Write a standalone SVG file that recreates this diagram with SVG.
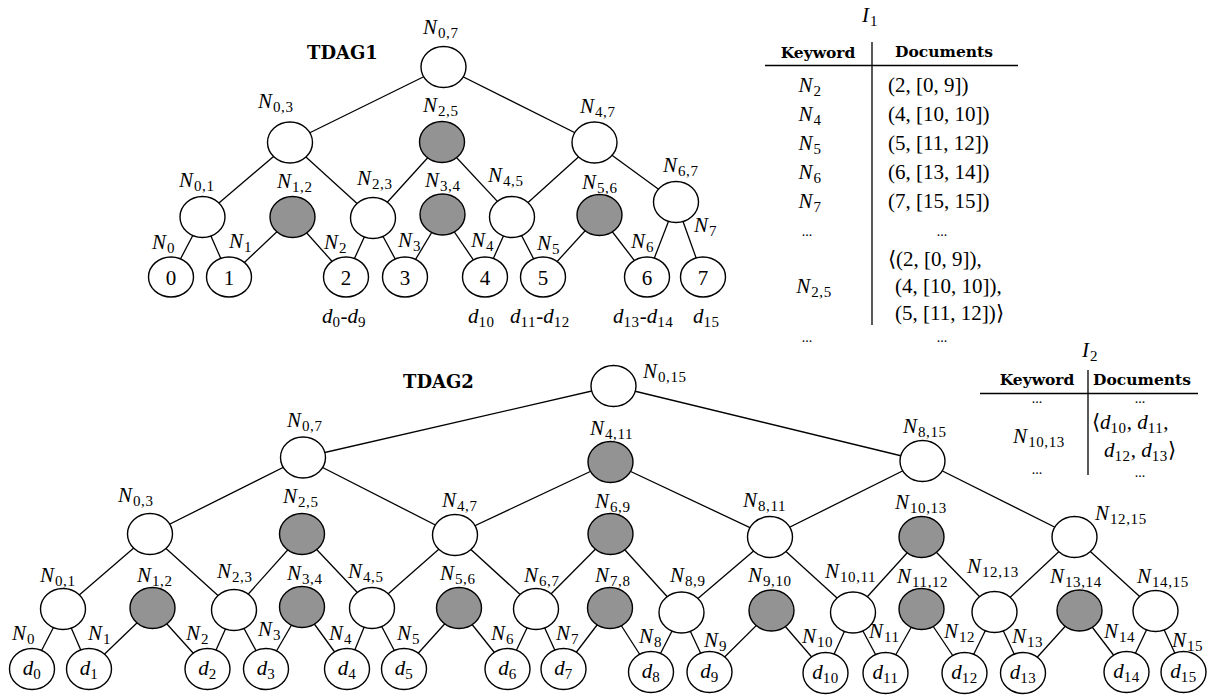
<svg xmlns="http://www.w3.org/2000/svg" width="1211" height="696" viewBox="0 0 1211 696">
<style>
.n{fill:#fff;stroke:#000;stroke-width:1.4}
.g{fill:#939393;stroke:#000;stroke-width:1.4}
.e{stroke:#000;stroke-width:1.3;fill:none}
.m{font-family:"Liberation Serif",serif;font-style:italic;font-size:21px;fill:#000}
.u{font-family:"Liberation Serif",serif;font-style:normal;font-size:21px;fill:#000}
.s{font-size:15px;font-style:normal;letter-spacing:0.6px}
.b{font-family:"DejaVu Serif",serif;font-weight:bold;font-size:15.5px;fill:#000}
.t{font-family:"DejaVu Serif",serif;font-weight:bold;font-size:18px;fill:#000}
.c{text-anchor:middle}
.r{font-family:"Liberation Serif",serif;font-size:21px;fill:#000}
.dt{font-family:"Liberation Serif",serif;font-size:14px;fill:#000;text-anchor:middle}
</style>
<rect width="1211" height="696" fill="#fff"/>
<g id="connectors">
<line class="e" x1="443.5" y1="67" x2="290" y2="142.5"/>
<line class="e" x1="443.5" y1="67" x2="594.5" y2="142.5"/>
<line class="e" x1="290" y1="142.5" x2="202.5" y2="217"/>
<line class="e" x1="290" y1="142.5" x2="373" y2="218"/>
<line class="e" x1="442" y1="142" x2="373" y2="218"/>
<line class="e" x1="442" y1="142" x2="512" y2="217"/>
<line class="e" x1="594.5" y1="142.5" x2="512" y2="217"/>
<line class="e" x1="594.5" y1="142.5" x2="676" y2="202"/>
<line class="e" x1="202.5" y1="217" x2="171" y2="277"/>
<line class="e" x1="202.5" y1="217" x2="229" y2="277"/>
<line class="e" x1="292.5" y1="217" x2="229" y2="277"/>
<line class="e" x1="292.5" y1="217" x2="346" y2="277"/>
<line class="e" x1="373" y1="218" x2="346" y2="277"/>
<line class="e" x1="373" y1="218" x2="405" y2="277"/>
<line class="e" x1="442.5" y1="214.5" x2="405" y2="277"/>
<line class="e" x1="442.5" y1="214.5" x2="485" y2="277"/>
<line class="e" x1="512" y1="217" x2="485" y2="277"/>
<line class="e" x1="512" y1="217" x2="543" y2="277"/>
<line class="e" x1="599.5" y1="215" x2="543" y2="277"/>
<line class="e" x1="599.5" y1="215" x2="647" y2="277"/>
<line class="e" x1="676" y1="202" x2="647" y2="277"/>
<line class="e" x1="676" y1="202" x2="703" y2="277"/>
<line class="e" x1="613.5" y1="386" x2="303" y2="457.5"/>
<line class="e" x1="613.5" y1="386" x2="922.5" y2="461"/>
<line class="e" x1="303" y1="457.5" x2="150" y2="534"/>
<line class="e" x1="303" y1="457.5" x2="455" y2="535"/>
<line class="e" x1="610.5" y1="462" x2="455" y2="535"/>
<line class="e" x1="610.5" y1="462" x2="770" y2="537"/>
<line class="e" x1="922.5" y1="461" x2="770" y2="537"/>
<line class="e" x1="922.5" y1="461" x2="1074.5" y2="537"/>
<line class="e" x1="150" y1="534" x2="63" y2="609"/>
<line class="e" x1="150" y1="534" x2="234" y2="610"/>
<line class="e" x1="302" y1="534" x2="234" y2="610"/>
<line class="e" x1="302" y1="534" x2="372" y2="608"/>
<line class="e" x1="455" y1="535" x2="372" y2="608"/>
<line class="e" x1="455" y1="535" x2="536" y2="609"/>
<line class="e" x1="610.5" y1="534" x2="536" y2="609"/>
<line class="e" x1="610.5" y1="534" x2="681.5" y2="612.5"/>
<line class="e" x1="770" y1="537" x2="681.5" y2="612.5"/>
<line class="e" x1="770" y1="537" x2="853" y2="612.5"/>
<line class="e" x1="921.5" y1="537" x2="853" y2="612.5"/>
<line class="e" x1="921.5" y1="537" x2="994.5" y2="612"/>
<line class="e" x1="1074.5" y1="537" x2="994.5" y2="612"/>
<line class="e" x1="1074.5" y1="537" x2="1155.5" y2="611"/>
<line class="e" x1="63" y1="609" x2="32" y2="669"/>
<line class="e" x1="63" y1="609" x2="89" y2="669"/>
<line class="e" x1="152.5" y1="608" x2="89" y2="669"/>
<line class="e" x1="152.5" y1="608" x2="207.5" y2="669"/>
<line class="e" x1="234" y1="610" x2="207.5" y2="669"/>
<line class="e" x1="234" y1="610" x2="266" y2="669"/>
<line class="e" x1="302" y1="607" x2="266" y2="669"/>
<line class="e" x1="302" y1="607" x2="347" y2="669"/>
<line class="e" x1="372" y1="608" x2="347" y2="669"/>
<line class="e" x1="372" y1="608" x2="404" y2="669"/>
<line class="e" x1="459" y1="608" x2="404" y2="669"/>
<line class="e" x1="459" y1="608" x2="507.5" y2="669"/>
<line class="e" x1="536" y1="609" x2="507.5" y2="669"/>
<line class="e" x1="536" y1="609" x2="563.5" y2="669"/>
<line class="e" x1="610" y1="608" x2="563.5" y2="669"/>
<line class="e" x1="610" y1="608" x2="651" y2="672"/>
<line class="e" x1="681.5" y1="612.5" x2="651" y2="672"/>
<line class="e" x1="681.5" y1="612.5" x2="709.5" y2="672"/>
<line class="e" x1="771.5" y1="610.5" x2="709.5" y2="672"/>
<line class="e" x1="771.5" y1="610.5" x2="825.5" y2="673"/>
<line class="e" x1="853" y1="612.5" x2="825.5" y2="673"/>
<line class="e" x1="853" y1="612.5" x2="885.5" y2="673"/>
<line class="e" x1="921.5" y1="609" x2="885.5" y2="673"/>
<line class="e" x1="921.5" y1="609" x2="964.5" y2="673"/>
<line class="e" x1="994.5" y1="612" x2="964.5" y2="673"/>
<line class="e" x1="994.5" y1="612" x2="1023" y2="673"/>
<line class="e" x1="1079.5" y1="610.5" x2="1023" y2="673"/>
<line class="e" x1="1079.5" y1="610.5" x2="1126.5" y2="672"/>
<line class="e" x1="1155.5" y1="611" x2="1126.5" y2="672"/>
<line class="e" x1="1155.5" y1="611" x2="1183.5" y2="672"/>
</g>

<g id="tdag1-title"><text class="t" x="307" y="59">TDAG1</text></g>
<g id="t1-N07"><ellipse class="n" cx="443.5" cy="67" rx="22.5" ry="20.5"/><text class="m" x="423" y="34">N<tspan class="s" dx="1" dy="4">0,7</tspan></text></g>
<g id="t1-N03"><ellipse class="n" cx="290" cy="142.5" rx="22.5" ry="20.5"/><text class="m" x="258" y="108">N<tspan class="s" dx="1" dy="4">0,3</tspan></text></g>
<g id="t1-N25"><ellipse class="g" cx="442" cy="142" rx="22.5" ry="20.5"/><text class="m" x="423" y="112">N<tspan class="s" dx="1" dy="4">2,5</tspan></text></g>
<g id="t1-N47"><ellipse class="n" cx="594.5" cy="142.5" rx="22.5" ry="20.5"/><text class="m" x="580" y="113">N<tspan class="s" dx="1" dy="4">4,7</tspan></text></g>
<g id="t1-N01"><ellipse class="n" cx="202.5" cy="217" rx="22.5" ry="20.5"/><text class="m" x="179" y="187">N<tspan class="s" dx="1" dy="4">0,1</tspan></text></g>
<g id="t1-N12"><ellipse class="g" cx="292.5" cy="217" rx="22.5" ry="20.5"/><text class="m" x="277" y="188">N<tspan class="s" dx="1" dy="4">1,2</tspan></text></g>
<g id="t1-N23"><ellipse class="n" cx="373" cy="218" rx="22.5" ry="20.5"/><text class="m" x="357" y="185">N<tspan class="s" dx="1" dy="4">2,3</tspan></text></g>
<g id="t1-N34"><ellipse class="g" cx="442.5" cy="214.5" rx="22.5" ry="20.5"/><text class="m" x="425" y="187">N<tspan class="s" dx="1" dy="4">3,4</tspan></text></g>
<g id="t1-N45"><ellipse class="n" cx="512" cy="217" rx="22.5" ry="20.5"/><text class="m" x="488" y="182">N<tspan class="s" dx="1" dy="4">4,5</tspan></text></g>
<g id="t1-N56"><ellipse class="g" cx="599.5" cy="215" rx="22.5" ry="20.5"/><text class="m" x="582" y="189">N<tspan class="s" dx="1" dy="4">5,6</tspan></text></g>
<g id="t1-N67"><ellipse class="n" cx="676" cy="202" rx="22.5" ry="20.5"/><text class="m" x="663" y="172">N<tspan class="s" dx="1" dy="4">6,7</tspan></text></g>
<g id="t1-L0"><ellipse class="n" cx="171" cy="277" rx="22.5" ry="20"/><text class="u c" x="171" y="284.5">0</text><text class="m" x="152" y="249">N<tspan class="s" dx="1" dy="4">0</tspan></text></g>
<g id="t1-L1"><ellipse class="n" cx="229" cy="277" rx="22.5" ry="20"/><text class="u c" x="229" y="284.5">1</text><text class="m" x="229" y="248">N<tspan class="s" dx="1" dy="4">1</tspan></text></g>
<g id="t1-L2"><ellipse class="n" cx="346" cy="277" rx="22.5" ry="20"/><text class="u c" x="346" y="284.5">2</text><text class="m" x="324" y="249">N<tspan class="s" dx="1" dy="4">2</tspan></text></g>
<g id="t1-L3"><ellipse class="n" cx="405" cy="277" rx="22.5" ry="20"/><text class="u c" x="405" y="284.5">3</text><text class="m" x="398" y="247">N<tspan class="s" dx="1" dy="4">3</tspan></text></g>
<g id="t1-L4"><ellipse class="n" cx="485" cy="277" rx="22.5" ry="20"/><text class="u c" x="485" y="284.5">4</text><text class="m" x="471" y="247">N<tspan class="s" dx="1" dy="4">4</tspan></text></g>
<g id="t1-L5"><ellipse class="n" cx="543" cy="277" rx="22.5" ry="20"/><text class="u c" x="543" y="284.5">5</text><text class="m" x="537" y="250">N<tspan class="s" dx="1" dy="4">5</tspan></text></g>
<g id="t1-L6"><ellipse class="n" cx="647" cy="277" rx="22.5" ry="20"/><text class="u c" x="647" y="284.5">6</text><text class="m" x="631" y="248">N<tspan class="s" dx="1" dy="4">6</tspan></text></g>
<g id="t1-L7"><ellipse class="n" cx="703" cy="277" rx="22.5" ry="20"/><text class="u c" x="703" y="284.5">7</text><text class="m" x="694" y="232">N<tspan class="s" dx="1" dy="4">7</tspan></text></g>
<g id="t1-docs">
<text class="m" x="322" y="323">d<tspan class="s" dy="4">0</tspan><tspan style="font-style:normal" dy="-4">-</tspan>d<tspan class="s" dy="4">9</tspan></text>
<text class="m" x="468" y="323">d<tspan class="s" dy="4">10</tspan></text>
<text class="m" x="510" y="323">d<tspan class="s" dy="4">11</tspan><tspan style="font-style:normal" dy="-4">-</tspan>d<tspan class="s" dy="4">12</tspan></text>
<text class="m" x="613" y="323">d<tspan class="s" dy="4">13</tspan><tspan style="font-style:normal" dy="-4">-</tspan>d<tspan class="s" dy="4">14</tspan></text>
<text class="m" x="693" y="323">d<tspan class="s" dy="4">15</tspan></text>
</g>

<g id="table-I1">
<text class="m" x="862" y="22">I<tspan class="s" dx="1" dy="4">1</tspan></text>
<text class="b c" x="818" y="58">Keyword</text>
<text class="b c" x="944" y="57">Documents</text>
<line class="e" x1="765" y1="65.5" x2="1018" y2="65.5"/>
<line class="e" x1="872" y1="42" x2="872" y2="325"/>
<text class="m c" x="810" y="92">N<tspan class="s" dx="1" dy="4">2</tspan></text>
<text class="r" x="888" y="92">(2, [0, 9])</text>
<text class="m c" x="810" y="121">N<tspan class="s" dx="1" dy="4">4</tspan></text>
<text class="r" x="888" y="121">(4, [10, 10])</text>
<text class="m c" x="810" y="150">N<tspan class="s" dx="1" dy="4">5</tspan></text>
<text class="r" x="888" y="150">(5, [11, 12])</text>
<text class="m c" x="810" y="179">N<tspan class="s" dx="1" dy="4">6</tspan></text>
<text class="r" x="888" y="179">(6, [13, 14])</text>
<text class="m c" x="810" y="208">N<tspan class="s" dx="1" dy="4">7</tspan></text>
<text class="r" x="888" y="208">(7, [15, 15])</text>
<text class="dt" x="807" y="236">...</text>
<text class="dt" x="942" y="236">...</text>
<text class="r" x="888" y="266">⟨(2, [0, 9]),</text>
<text class="m c" x="814" y="293">N<tspan class="s" dx="1" dy="4">2,5</tspan></text>
<text class="r" x="895" y="293">(4, [10, 10]),</text>
<text class="r" x="895" y="320">(5, [11, 12])⟩</text>
<text class="dt" x="807" y="342">...</text>
<text class="dt" x="942" y="342">...</text>
</g>

<g id="table-I2">
<text class="m" x="1082" y="357">I<tspan class="s" dx="1" dy="4">2</tspan></text>
<text class="b c" x="1037" y="385">Keyword</text>
<text class="b c" x="1142" y="385">Documents</text>
<line class="e" x1="980" y1="393.5" x2="1198" y2="393.5"/>
<line class="e" x1="1088" y1="370" x2="1088" y2="475"/>
<text class="dt" x="1037" y="403">...</text>
<text class="dt" x="1140" y="403">...</text>
<text class="m c" x="1039" y="443">N<tspan class="s" dx="1" dy="4">10,13</tspan></text>
<text class="r" x="1092" y="429">⟨<tspan class="m">d</tspan><tspan class="s" dy="4">10</tspan><tspan dy="-4">, </tspan><tspan class="m">d</tspan><tspan class="s" dy="4">11</tspan><tspan dy="-4">,</tspan></text>
<text class="r" x="1104" y="457"><tspan class="m">d</tspan><tspan class="s" dy="4">12</tspan><tspan dy="-4">, </tspan><tspan class="m">d</tspan><tspan class="s" dy="4">13</tspan><tspan dy="-4">⟩</tspan></text>
<text class="dt" x="1037" y="474">...</text>
<text class="dt" x="1140" y="477">...</text>
</g>

<g id="tdag2-title"><text class="t" x="403" y="388">TDAG2</text></g>
<g id="t2-N015"><ellipse class="n" cx="613.5" cy="386" rx="22.5" ry="20.5"/><text class="m" x="643" y="378">N<tspan class="s" dx="1" dy="4">0,15</tspan></text></g>
<g id="t2-N07"><ellipse class="n" cx="303" cy="457.5" rx="22.5" ry="20.5"/><text class="m" x="287" y="427">N<tspan class="s" dx="1" dy="4">0,7</tspan></text></g>
<g id="t2-N411"><ellipse class="g" cx="610.5" cy="462" rx="22.5" ry="20.5"/><text class="m" x="590" y="435">N<tspan class="s" dx="1" dy="4">4,11</tspan></text></g>
<g id="t2-N815"><ellipse class="n" cx="922.5" cy="461" rx="22.5" ry="20.5"/><text class="m" x="903" y="433">N<tspan class="s" dx="1" dy="4">8,15</tspan></text></g>
<g id="t2-N03"><ellipse class="n" cx="150" cy="534" rx="22.5" ry="20.5"/><text class="m" x="118" y="502">N<tspan class="s" dx="1" dy="4">0,3</tspan></text></g>
<g id="t2-N25"><ellipse class="g" cx="302" cy="534" rx="22.5" ry="20.5"/><text class="m" x="283" y="503">N<tspan class="s" dx="1" dy="4">2,5</tspan></text></g>
<g id="t2-N47"><ellipse class="n" cx="455" cy="535" rx="22.5" ry="20.5"/><text class="m" x="442" y="507">N<tspan class="s" dx="1" dy="4">4,7</tspan></text></g>
<g id="t2-N69"><ellipse class="g" cx="610.5" cy="534" rx="22.5" ry="20.5"/><text class="m" x="595" y="508">N<tspan class="s" dx="1" dy="4">6,9</tspan></text></g>
<g id="t2-N811"><ellipse class="n" cx="770" cy="537" rx="22.5" ry="20.5"/><text class="m" x="743" y="507">N<tspan class="s" dx="1" dy="4">8,11</tspan></text></g>
<g id="t2-N1013"><ellipse class="g" cx="921.5" cy="537" rx="22.5" ry="20.5"/><text class="m" x="895" y="509">N<tspan class="s" dx="1" dy="4">10,13</tspan></text></g>
<g id="t2-N1215"><ellipse class="n" cx="1074.5" cy="537" rx="22.5" ry="20.5"/><text class="m" x="1095" y="520">N<tspan class="s" dx="1" dy="4">12,15</tspan></text></g>
<g id="t2-N01"><ellipse class="n" cx="63" cy="609" rx="22.5" ry="20.5"/><text class="m" x="40" y="582">N<tspan class="s" dx="1" dy="4">0,1</tspan></text></g>
<g id="t2-N12"><ellipse class="g" cx="152.5" cy="608" rx="22.5" ry="20.5"/><text class="m" x="137" y="582">N<tspan class="s" dx="1" dy="4">1,2</tspan></text></g>
<g id="t2-N23"><ellipse class="n" cx="234" cy="610" rx="22.5" ry="20.5"/><text class="m" x="217" y="578">N<tspan class="s" dx="1" dy="4">2,3</tspan></text></g>
<g id="t2-N34"><ellipse class="g" cx="302" cy="607" rx="22.5" ry="20.5"/><text class="m" x="287" y="580">N<tspan class="s" dx="1" dy="4">3,4</tspan></text></g>
<g id="t2-N45"><ellipse class="n" cx="372" cy="608" rx="22.5" ry="20.5"/><text class="m" x="348" y="578">N<tspan class="s" dx="1" dy="4">4,5</tspan></text></g>
<g id="t2-N56"><ellipse class="g" cx="459" cy="608" rx="22.5" ry="20.5"/><text class="m" x="440" y="580">N<tspan class="s" dx="1" dy="4">5,6</tspan></text></g>
<g id="t2-N67"><ellipse class="n" cx="536" cy="609" rx="22.5" ry="20.5"/><text class="m" x="524" y="582">N<tspan class="s" dx="1" dy="4">6,7</tspan></text></g>
<g id="t2-N78"><ellipse class="g" cx="610" cy="608" rx="22.5" ry="20.5"/><text class="m" x="595" y="582">N<tspan class="s" dx="1" dy="4">7,8</tspan></text></g>
<g id="t2-N89"><ellipse class="n" cx="681.5" cy="612.5" rx="22.5" ry="20.5"/><text class="m" x="670" y="582">N<tspan class="s" dx="1" dy="4">8,9</tspan></text></g>
<g id="t2-N910"><ellipse class="g" cx="771.5" cy="610.5" rx="22.5" ry="20.5"/><text class="m" x="748" y="582">N<tspan class="s" dx="1" dy="4">9,10</tspan></text></g>
<g id="t2-N1011"><ellipse class="n" cx="853" cy="612.5" rx="22.5" ry="20.5"/><text class="m" x="825" y="578">N<tspan class="s" dx="1" dy="4">10,11</tspan></text></g>
<g id="t2-N1112"><ellipse class="g" cx="921.5" cy="609" rx="22.5" ry="20.5"/><text class="m" x="897" y="583">N<tspan class="s" dx="1" dy="4">11,12</tspan></text></g>
<g id="t2-N1213"><ellipse class="n" cx="994.5" cy="612" rx="22.5" ry="20.5"/><text class="m" x="967" y="573">N<tspan class="s" dx="1" dy="4">12,13</tspan></text></g>
<g id="t2-N1314"><ellipse class="g" cx="1079.5" cy="610.5" rx="22.5" ry="20.5"/><text class="m" x="1050" y="583">N<tspan class="s" dx="1" dy="4">13,14</tspan></text></g>
<g id="t2-N1415"><ellipse class="n" cx="1155.5" cy="611" rx="22.5" ry="20.5"/><text class="m" x="1137" y="583">N<tspan class="s" dx="1" dy="4">14,15</tspan></text></g>

<g id="t2-d0"><ellipse class="n" cx="32" cy="669" rx="22.5" ry="20.5"/><text class="m c" x="32" y="675">d<tspan class="s" dy="4">0</tspan></text><text class="m" x="12" y="640">N<tspan class="s" dx="1" dy="4">0</tspan></text></g>
<g id="t2-d1"><ellipse class="n" cx="89" cy="669" rx="22.5" ry="20.5"/><text class="m c" x="89" y="675">d<tspan class="s" dy="4">1</tspan></text><text class="m" x="88" y="640">N<tspan class="s" dx="1" dy="4">1</tspan></text></g>
<g id="t2-d2"><ellipse class="n" cx="207.5" cy="669" rx="22.5" ry="20.5"/><text class="m c" x="207.5" y="675">d<tspan class="s" dy="4">2</tspan></text><text class="m" x="186" y="640">N<tspan class="s" dx="1" dy="4">2</tspan></text></g>
<g id="t2-d3"><ellipse class="n" cx="266" cy="669" rx="22.5" ry="20.5"/><text class="m c" x="266" y="675">d<tspan class="s" dy="4">3</tspan></text><text class="m" x="258" y="636">N<tspan class="s" dx="1" dy="4">3</tspan></text></g>
<g id="t2-d4"><ellipse class="n" cx="347" cy="669" rx="22.5" ry="20.5"/><text class="m c" x="347" y="675">d<tspan class="s" dy="4">4</tspan></text><text class="m" x="329" y="640">N<tspan class="s" dx="1" dy="4">4</tspan></text></g>
<g id="t2-d5"><ellipse class="n" cx="404" cy="669" rx="22.5" ry="20.5"/><text class="m c" x="404" y="675">d<tspan class="s" dy="4">5</tspan></text><text class="m" x="397" y="640">N<tspan class="s" dx="1" dy="4">5</tspan></text></g>
<g id="t2-d6"><ellipse class="n" cx="507.5" cy="669" rx="22.5" ry="20.5"/><text class="m c" x="507.5" y="675">d<tspan class="s" dy="4">6</tspan></text><text class="m" x="491" y="640">N<tspan class="s" dx="1" dy="4">6</tspan></text></g>
<g id="t2-d7"><ellipse class="n" cx="563.5" cy="669" rx="22.5" ry="20.5"/><text class="m c" x="563.5" y="675">d<tspan class="s" dy="4">7</tspan></text><text class="m" x="556" y="640">N<tspan class="s" dx="1" dy="4">7</tspan></text></g>
<g id="t2-d8"><ellipse class="n" cx="651" cy="672" rx="22.5" ry="20.5"/><text class="m c" x="651" y="678">d<tspan class="s" dy="4">8</tspan></text><text class="m" x="639" y="643">N<tspan class="s" dx="1" dy="4">8</tspan></text></g>
<g id="t2-d9"><ellipse class="n" cx="709.5" cy="672" rx="22.5" ry="20.5"/><text class="m c" x="709.5" y="678">d<tspan class="s" dy="4">9</tspan></text><text class="m" x="704" y="647">N<tspan class="s" dx="1" dy="4">9</tspan></text></g>
<g id="t2-d10"><ellipse class="n" cx="825.5" cy="673" rx="22.5" ry="20.5"/><text class="m c" x="825.5" y="679">d<tspan class="s" dy="4">10</tspan></text><text class="m" x="802" y="643">N<tspan class="s" dx="1" dy="4">10</tspan></text></g>
<g id="t2-d11"><ellipse class="n" cx="885.5" cy="673" rx="22.5" ry="20.5"/><text class="m c" x="885.5" y="679">d<tspan class="s" dy="4">11</tspan></text><text class="m" x="869" y="638">N<tspan class="s" dx="1" dy="4">11</tspan></text></g>
<g id="t2-d12"><ellipse class="n" cx="964.5" cy="673" rx="22.5" ry="20.5"/><text class="m c" x="964.5" y="679">d<tspan class="s" dy="4">12</tspan></text><text class="m" x="944" y="638">N<tspan class="s" dx="1" dy="4">12</tspan></text></g>
<g id="t2-d13"><ellipse class="n" cx="1023" cy="673" rx="22.5" ry="20.5"/><text class="m c" x="1023" y="679">d<tspan class="s" dy="4">13</tspan></text><text class="m" x="1012" y="643">N<tspan class="s" dx="1" dy="4">13</tspan></text></g>
<g id="t2-d14"><ellipse class="n" cx="1126.5" cy="672" rx="22.5" ry="20.5"/><text class="m c" x="1126.5" y="678">d<tspan class="s" dy="4">14</tspan></text><text class="m" x="1104" y="638">N<tspan class="s" dx="1" dy="4">14</tspan></text></g>
<g id="t2-d15"><ellipse class="n" cx="1183.5" cy="672" rx="22.5" ry="20.5"/><text class="m c" x="1183.5" y="678">d<tspan class="s" dy="4">15</tspan></text><text class="m" x="1172" y="647">N<tspan class="s" dx="1" dy="4">15</tspan></text></g>
</svg>
